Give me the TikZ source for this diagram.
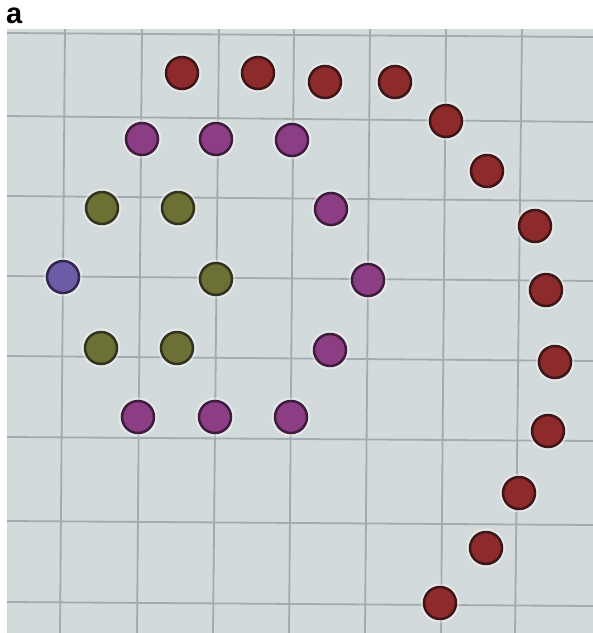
\documentclass[tikz,border=0pt]{standalone}
\usepackage{fontspec}
\setmainfont{Liberation Sans}
\definecolor{paper}{HTML}{D3DADB}
\definecolor{gridc}{HTML}{A3AAB0}
\definecolor{redf}{HTML}{8C2A2C}
\definecolor{rede}{HTML}{3E1618}
\definecolor{magf}{HTML}{8C3E84}
\definecolor{mage}{HTML}{3E1C3C}
\definecolor{grnf}{HTML}{6C7034}
\definecolor{grne}{HTML}{30341E}
\definecolor{bluf}{HTML}{6C5CA6}
\definecolor{blue}{HTML}{302850}
\tikzset{
  dotbase/.style={circle, inner sep=0pt, minimum size=32pt, line width=2.5pt},
  reddot/.style={dotbase, fill=redf, draw=rede},
  magdot/.style={dotbase, fill=magf, draw=mage},
  grndot/.style={dotbase, fill=grnf, draw=grne},
  bludot/.style={dotbase, fill=bluf, draw=blue},
  gridline/.style={draw=gridc, line width=1.8pt},
  halo/.style={circle, inner sep=0pt, minimum size=39pt, fill=white, fill opacity=0.4}
}
\begin{document}
\begin{tikzpicture}[x=1pt,y=-1pt]
\useasboundingbox (0,0) rectangle (593,633);
\fill[white] (0,0) rectangle (593,633);
\node[anchor=base west, inner sep=0pt, font=\bfseries\fontsize{29}{29}\selectfont] (lbl) at (6,23) {a};
\fill[paper] (7,29) rectangle (593,633);
\begin{scope}
\clip (7,29) rectangle (593,633);
% vertical grid lines (top x, bottom x)
\foreach \t/\b in {65/60,142/137,219/213,294/289,370/365,446/441,522/515}
  \draw[gridline] (\t,29) -- (\b,633);
% horizontal grid lines (left y, right y)
\foreach \l/\r in {33/37,116/122,196/201,276/281,356/361,437/441,521/525,602/606}
  \draw[gridline] (7,\l) -- (593,\r);
\end{scope}
% halos
\foreach \x/\y in {182/73,258/73,325/82,395/82,446/121,487/171,535/226,546/290,555/362,548/431,519/493,486/548,440/603,
  142/139,216/139,292/140,331/209,368/280,330/350,291/417,215/417,138/417,
  102/208,178/208,216/279,101/348,177/348,63/277}
  \node[halo] at (\x,\y) {};
% red dots
\node[reddot] (r1) at (182,73) {};
\node[reddot] (r2) at (258,73) {};
\node[reddot] (r3) at (325,82) {};
\node[reddot] (r4) at (395,82) {};
\node[reddot] (r5) at (446,121) {};
\node[reddot] (r6) at (487,171) {};
\node[reddot] (r7) at (535,226) {};
\node[reddot] (r8) at (546,290) {};
\node[reddot] (r9) at (555,362) {};
\node[reddot] (r10) at (548,431) {};
\node[reddot] (r11) at (519,493) {};
\node[reddot] (r12) at (486,548) {};
\node[reddot] (r13) at (440,603) {};
% magenta dots
\node[magdot] (m1) at (142,139) {};
\node[magdot] (m2) at (216,139) {};
\node[magdot] (m3) at (292,140) {};
\node[magdot] (m4) at (331,209) {};
\node[magdot] (m5) at (368,280) {};
\node[magdot] (m6) at (330,350) {};
\node[magdot] (m7) at (291,417) {};
\node[magdot] (m8) at (215,417) {};
\node[magdot] (m9) at (138,417) {};
% green dots
\node[grndot] (g1) at (102,208) {};
\node[grndot] (g2) at (178,208) {};
\node[grndot] (g3) at (216,279) {};
\node[grndot] (g4) at (101,348) {};
\node[grndot] (g5) at (177,348) {};
% blue dot
\node[bludot] (b1) at (63,277) {};
\end{tikzpicture}
\end{document}
